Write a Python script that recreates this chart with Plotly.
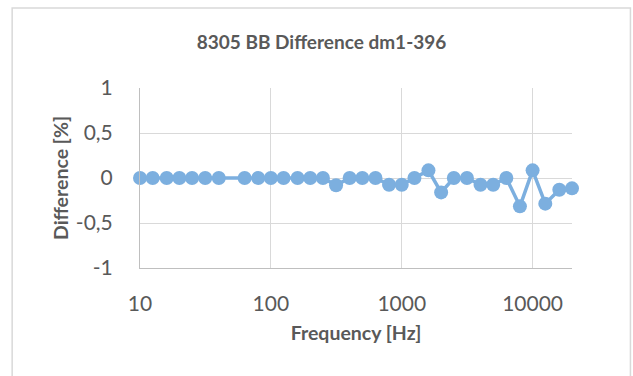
import plotly.graph_objects as go

# Third-octave frequencies [Hz] and measured difference [%]
frequencies = [10, 12.5, 16, 20, 25, 31.5, 40, 63, 80, 100, 125, 160, 200, 250,
               315, 400, 500, 630, 800, 1000, 1250, 1600, 2000, 2500, 3150, 4000,
               5000, 6300, 8000, 10000, 12500, 16000, 20000]
difference = [0, 0, 0, 0, 0, 0, 0, 0, 0, 0, 0, 0, 0, 0,
              -0.08, 0, 0, 0, -0.075, -0.075, 0, 0.085, -0.16, 0, 0, -0.075,
              -0.075, 0, -0.315, 0.085, -0.285, -0.13, -0.115]

x_tick_vals = [10, 100, 1000, 10000]
x_tick_text = ["10", "100", "1000", "10000"]
y_tick_vals = [-1, -0.5, 0, 0.5, 1]
y_tick_text = ["-1", "-0,5", "0", "0,5", "1"]

TEXT = "#595959"
GRID = "#d9d9d9"
AXIS = "#bfbfbf"
BLUE = "#7cafdf"
FONT = "Lato"

W, H = 633, 376
L, R, T, B = 140, 60.5, 88, 108
pw, ph = W - L - R, H - T - B


def px_to_paper_x(px):
    return (px - L) / pw


def px_to_paper_y(py):
    return (H - B - py) / ph


fig = go.Figure(
    go.Scatter(
        x=frequencies,
        y=difference,
        mode="lines+markers",
        line=dict(color=BLUE, width=3.5),
        marker=dict(color=BLUE, size=14),
        cliponaxis=False,
        hoverinfo="x+y",
    )
)

fig.update_layout(
    width=W,
    height=H,
    margin=dict(l=L, r=R, t=T, b=B),
    paper_bgcolor="white",
    plot_bgcolor="white",
    showlegend=False,
    font=dict(family=FONT, color=TEXT),
    title=dict(
        text="<b>8305 BB Difference dm1-396</b>",
        x=321.5 / W, xref="container", xanchor="center",
        y=1 - 42 / H, yref="container", yanchor="middle",
        font=dict(size=19, color=TEXT, family=FONT),
    ),
    shapes=[
        dict(
            type="rect", xref="paper", yref="paper",
            x0=px_to_paper_x(12), x1=px_to_paper_x(631),
            y0=px_to_paper_y(395), y1=px_to_paper_y(8),
            line=dict(color=GRID, width=1.5), fillcolor="rgba(0,0,0,0)",
            layer="below",
        )
    ],
)

fig.update_xaxes(
    type="log",
    range=[1, 4.30103],
    tickvals=x_tick_vals,
    ticktext=x_tick_text,
    tickfont=dict(size=21, color=TEXT, family=FONT),
    showgrid=True, gridcolor=GRID, gridwidth=1,
    showline=True, linecolor=AXIS, linewidth=1,
    zeroline=False, ticks="",
    ticklabelstandoff=17,
    title=dict(text="<b>Frequency [Hz]</b>", font=dict(size=19.5, color=TEXT, family=FONT), standoff=12),
)

fig.update_yaxes(
    range=[-1, 1],
    tickvals=y_tick_vals,
    ticktext=y_tick_text,
    tickfont=dict(size=21, color=TEXT, family=FONT),
    showgrid=True, gridcolor=GRID, gridwidth=1,
    showline=True, linecolor=AXIS, linewidth=1,
    zeroline=False, ticks="",
    ticklabelstandoff=22,
    title=dict(text="<b>Difference [%]</b>", font=dict(size=19.5, color=TEXT, family=FONT), standoff=2),
)

fig.write_html("out.html")
